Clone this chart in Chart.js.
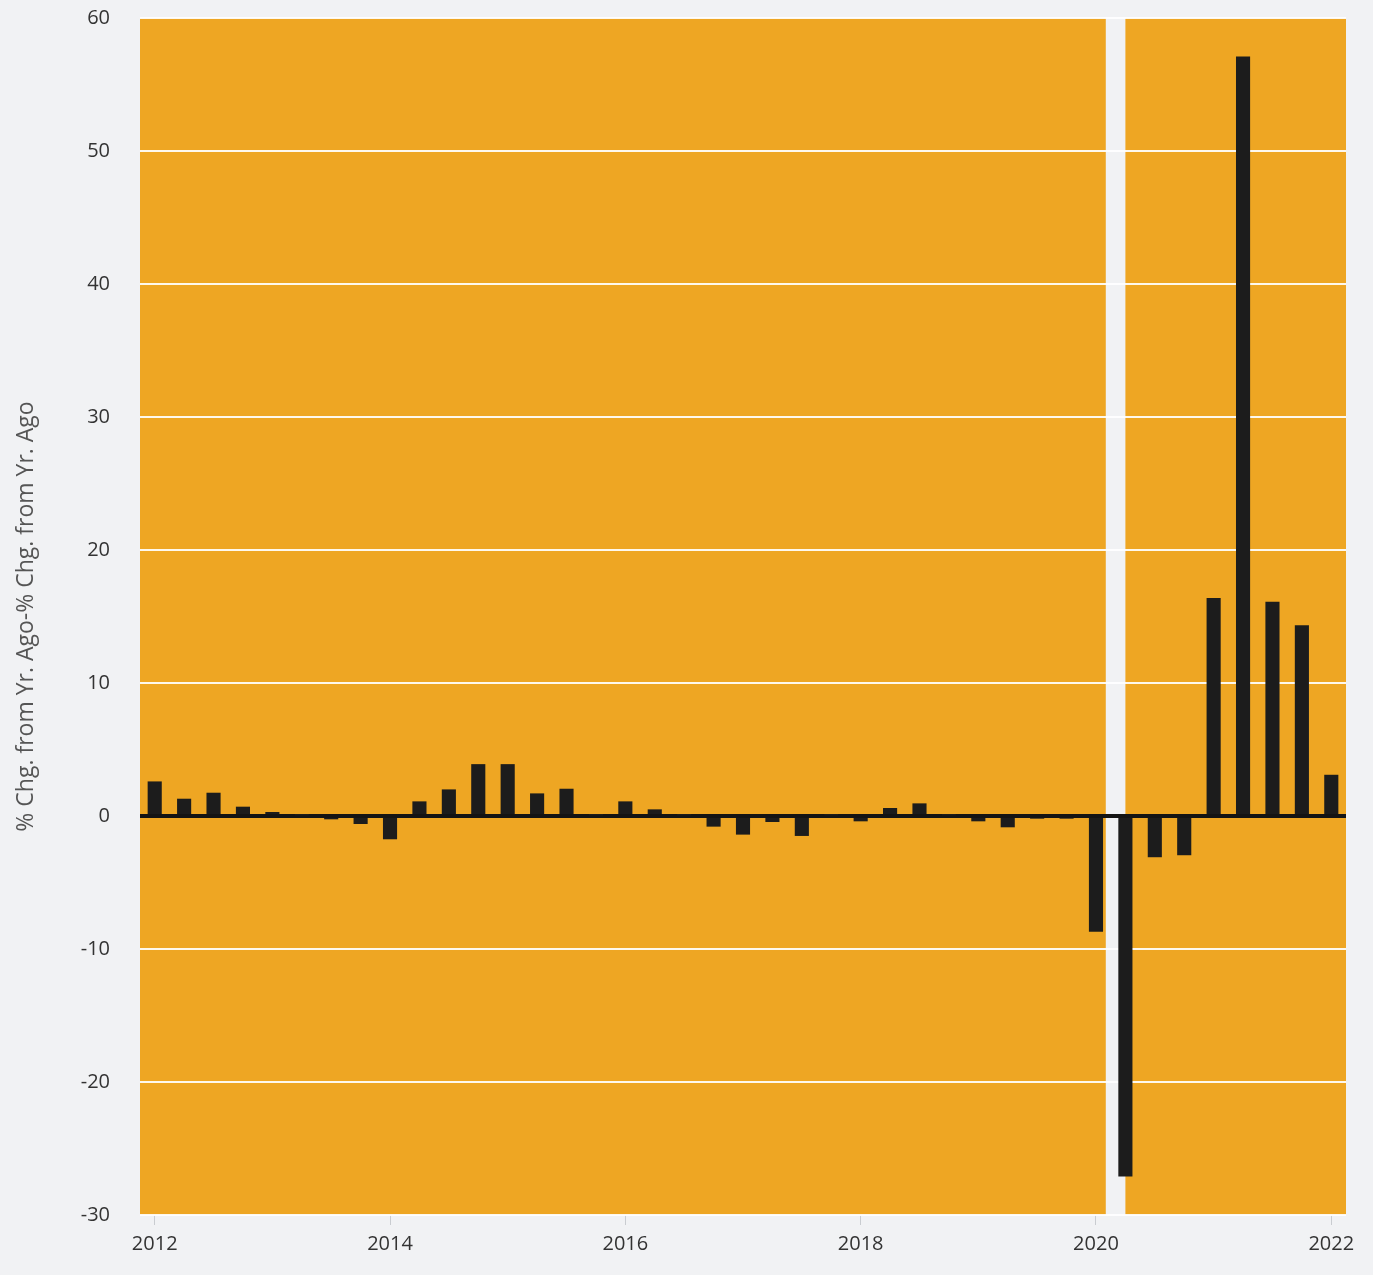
<!DOCTYPE html>
<html>
<head>
<meta charset="utf-8">
<title>% Chg. from Yr. Ago-% Chg. from Yr. Ago</title>
<script src="https://cdn.jsdelivr.net/npm/chart.js@4.4.1/dist/chart.umd.min.js"></script>
<style>
  html, body { margin: 0; padding: 0; background: #f1f2f4; }
  canvas { display: block; }
</style>
</head>
<body>
<canvas id="chart" width="1373" height="1275"></canvas>
<script>
// Quarterly observations, 2012 Q1 through 2022 Q1
const years = [2012, 2013, 2014, 2015, 2016, 2017, 2018, 2019, 2020, 2021, 2022];
const quarters = years.flatMap(y => [1, 2, 3, 4].map(q => `${y}-Q${q}`)).slice(0, 41);

// Difference between the two year-over-year percent changes
const values2012 = [2.6, 1.3, 1.75, 0.7];
const values2013 = [0.3, 0.05, -0.25, -0.6];
const values2014 = [-1.75, 1.1, 2.0, 3.9];
const values2015 = [3.9, 1.7, 2.05, 0.05];
const values2016 = [1.1, 0.5, 0.05, -0.8];
const values2017 = [-1.4, -0.45, -1.5, 0.05];
const values2018 = [-0.4, 0.6, 0.95, 0.05];
const values2019 = [-0.4, -0.85, -0.2, -0.2];
const values2020 = [-8.7, -27.1, -3.1, -2.95];
const values2021 = [16.4, 57.1, 16.1, 14.35];
const values2022 = [3.1];
const values = [].concat(values2012, values2013, values2014, values2015, values2016,
  values2017, values2018, values2019, values2020, values2021, values2022);

// Year labels shown on the horizontal axis
const yearTicks = ['2012', '2014', '2016', '2018', '2020', '2022'];

// Recession period (year, month)
const recessionStart = [2020, 2];
const recessionEnd = [2020, 4];

// Vertical axis range
const yMin = -30, yMax = 60, yStep = 10;

const PAGE_BG = '#f1f2f4';
const PLOT_BG = '#eea623';

// position of a month on the quarterly category axis
function monthToIndex([y, m]) {
  return (y - years[0]) * 4 + (m - 1) / 3;
}

const backdrop = {
  id: 'backdrop',
  beforeDraw(chart) {
    const { ctx, chartArea: a, scales: { x } } = chart;
    ctx.save();
    ctx.fillStyle = PAGE_BG;
    ctx.fillRect(0, 0, chart.width, chart.height);
    ctx.fillStyle = PLOT_BG;
    ctx.fillRect(a.left, a.top, a.right - a.left, a.bottom - a.top);
    const x0 = x.getPixelForValue(monthToIndex(recessionStart));
    const x1 = x.getPixelForValue(monthToIndex(recessionEnd));
    ctx.fillStyle = PAGE_BG;
    ctx.fillRect(x0, a.top, x1 - x0, a.bottom - a.top);
    ctx.restore();
  }
};

new Chart(document.getElementById('chart'), {
  type: 'bar',
  data: {
    labels: quarters,
    datasets: [{
      data: values,
      backgroundColor: '#1c1c1c',
      borderWidth: 0,
      barPercentage: 0.48,
      categoryPercentage: 1.0
    }]
  },
  options: {
    responsive: false,
    animation: false,
    layout: { padding: { top: 18, right: 27, left: 0, bottom: 0 } },
    plugins: { legend: { display: false }, tooltip: { enabled: false } },
    scales: {
      x: {
        offset: true,
        border: { display: false },
        grid: {
          drawOnChartArea: false,
          drawTicks: true,
          tickLength: 10,
          color: '#c9ccd0',
          offset: false
        },
        ticks: {
          autoSkip: false,
          maxRotation: 0,
          padding: 7,
          color: '#333',
          font: { family: '"Open Sans", sans-serif', size: 20 },
          callback(value) {
            const label = quarters[value];
            const [yr, q] = label.split('-');
            return q === 'Q1' && yearTicks.includes(yr) ? yr : null;
          }
        },
        afterFit(scale) {
          scale.height = 60;
          scale.paddingLeft = 0;
          scale.paddingRight = 0;
        }
      },
      y: {
        min: yMin,
        max: yMax,
        border: { display: false },
        grid: {
          drawTicks: false,
          color: ctx => ctx.tick && ctx.tick.value === 0 ? '#141414' : 'rgba(255,255,255,0.92)',
          lineWidth: ctx => ctx.tick && ctx.tick.value === 0 ? 4 : 2
        },
        ticks: {
          stepSize: yStep,
          padding: 30,
          color: '#333',
          font: { family: '"Open Sans", sans-serif', size: 20 }
        },
        title: {
          display: true,
          text: '% Chg. from Yr. Ago-% Chg. from Yr. Ago',
          color: '#555',
          font: { family: '"Open Sans", sans-serif', size: 23 },
          padding: { top: 13, bottom: 0 }
        },
        afterFit(scale) {
          scale.width = 140;
          scale.paddingTop = 0;
          scale.paddingBottom = 0;
        }
      }
    }
  },
  plugins: [backdrop]
});
</script>
</body>
</html>
